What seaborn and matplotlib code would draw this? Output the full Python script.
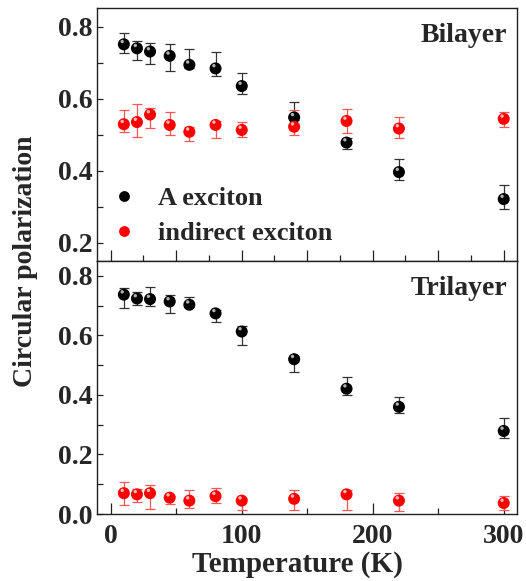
import numpy as np
import pandas as pd
import seaborn as sns
import matplotlib
matplotlib.use('Agg')
from matplotlib import pyplot as plt
from matplotlib.ticker import MultipleLocator
from matplotlib.transforms import ScaledTranslation

# ----- datos -----
temps = [10, 20, 30, 45, 60, 80, 100, 140, 180, 220, 300]

# bicapa
bi_a = [0.751, 0.740, 0.731, 0.719, 0.694, 0.684, 0.635, 0.548, 0.478, 0.396, 0.321]
bi_a_hi = [0.782, 0.761, 0.755, 0.752, 0.739, 0.730, 0.670, 0.590, 0.490, 0.433, 0.359]
bi_a_lo = [0.726, 0.707, 0.696, 0.677, 0.685, 0.662, 0.613, 0.540, 0.459, 0.374, 0.294]
bi_ind = [0.529, 0.535, 0.556, 0.527, 0.508, 0.527, 0.513, 0.522, 0.538, 0.517, 0.544]
bi_ind_hi = [0.569, 0.584, 0.575, 0.562, 0.520, 0.539, 0.536, 0.569, 0.571, 0.548, 0.564]
bi_ind_lo = [0.506, 0.494, 0.518, 0.498, 0.482, 0.490, 0.494, 0.499, 0.504, 0.492, 0.521]

# tricapa
tri_a = [0.737, 0.724, 0.722, 0.714, 0.703, 0.674, 0.613, 0.520, 0.421, 0.360, 0.279]
tri_a_hi = [0.758, 0.746, 0.761, 0.737, 0.730, 0.685, 0.632, 0.530, 0.459, 0.394, 0.321]
tri_a_lo = [0.692, 0.703, 0.699, 0.675, 0.695, 0.646, 0.567, 0.477, 0.400, 0.340, 0.255]
tri_ind = [0.070, 0.066, 0.070, 0.055, 0.045, 0.060, 0.045, 0.051, 0.066, 0.045, 0.037]
tri_ind_hi = [0.107, 0.084, 0.099, 0.062, 0.080, 0.088, 0.055, 0.080, 0.080, 0.071, 0.059]
tri_ind_lo = [0.029, 0.042, 0.018, 0.032, 0.021, 0.037, 0.014, 0.014, 0.014, 0.010, 0.015]

labels = ['A exciton', 'indirect exciton']
colores = {'A exciton': 'black', 'indirect exciton': '#ff0000'}
brillo = {'A exciton': '#b0b0b0', 'indirect exciton': '#ffb8b8'}
barras = {'A exciton': '#333333', 'indirect exciton': '#ff5555'}

# ----- estilo -----
sns.set_style('ticks')
plt.rcParams['font.family'] = ['Liberation Serif', 'DejaVu Serif']
plt.rcParams['font.weight'] = 'bold'
plt.rcParams['axes.labelweight'] = 'bold'
plt.rcParams['axes.linewidth'] = 1.0
plt.rcParams['axes.edgecolor'] = '#222222'

fig = plt.figure(figsize=(5.26, 5.81), dpi=100)
ax1 = fig.add_axes([0.1844, 0.5508, 0.7994, 0.4355])
ax2 = fig.add_axes([0.1844, 0.1153, 0.7994, 0.4355])


def panel(ax, a, a_lo, a_hi, ind, ind_lo, ind_hi, legend):
    df = pd.DataFrame({
        'T': temps * 2,
        'P': a + ind,
        'serie': [labels[0]] * len(temps) + [labels[1]] * len(temps),
    })
    for lab, y, lo, hi in [(labels[0], a, a_lo, a_hi), (labels[1], ind, ind_lo, ind_hi)]:
        y = np.array(y)
        yerr = [y - np.array(lo), np.array(hi) - y]
        ax.errorbar(temps, y, yerr=yerr, fmt='none', ecolor=barras[lab],
                    elinewidth=0.9, capsize=3.5, capthick=0.9, zorder=2)
    sns.scatterplot(data=df, x='T', y='P', hue='serie', palette=colores,
                    hue_order=labels, s=75, edgecolor='none',
                    linewidth=0, ax=ax, zorder=3, legend=legend)
    # brillo de las esferas
    off = ax.transData + ScaledTranslation(-1.2 / 72, 2.0 / 72, fig.dpi_scale_trans)
    for lab, y in [(labels[0], a), (labels[1], ind)]:
        ax.scatter(temps, y, s=6, color=brillo[lab], edgecolor='none',
                   transform=off, zorder=4)
    ax.set_xlim(-10.5, 310.5)
    ax.set_xlabel('')
    ax.set_ylabel('')
    ax.yaxis.set_major_locator(MultipleLocator(0.2))
    ax.yaxis.set_minor_locator(MultipleLocator(0.1))
    ax.xaxis.set_major_locator(MultipleLocator(100))
    ax.tick_params(axis='both', which='both', direction='in', labelsize=20,
                   top=False, right=False, width=0.9, color='#222222')
    ax.tick_params(axis='y', which='both', length=4)
    ax.tick_params(axis='x', which='major', length=8, pad=7)
    ax.tick_params(axis='x', which='minor', length=4)


panel(ax1, bi_a, bi_a_lo, bi_a_hi, bi_ind, bi_ind_lo, bi_ind_hi, True)
panel(ax2, tri_a, tri_a_lo, tri_a_hi, tri_ind, tri_ind_lo, tri_ind_hi, False)

ax1.set_ylim(0.149, 0.852)
ax2.set_ylim(0.0, 0.85)
ax1.xaxis.set_minor_locator(MultipleLocator(25))
ax1.xaxis.set_major_locator(MultipleLocator(50))
ax1.tick_params(axis='x', labelbottom=False)
ax2.xaxis.set_minor_locator(MultipleLocator(50))
ax2.set_yticks([0.0, 0.2, 0.4, 0.6, 0.8])
ax2.set_yticklabels(['0.0', '0.2', '0.4', '0.6', '0.8'])
ax1.set_yticks([0.2, 0.4, 0.6, 0.8])
ax1.set_yticklabels(['0.2', '0.4', '0.6', '0.8'])
for t in ax1.get_yticklabels() + ax2.get_yticklabels() + ax2.get_xticklabels():
    t.set_fontweight('bold')

ax1.text(0.975, 0.94, 'Bilayer', transform=ax1.transAxes, ha='right', va='top',
         fontsize=20, fontweight='bold')
ax2.text(0.975, 0.94, 'Trilayer', transform=ax2.transAxes, ha='right', va='top',
         fontsize=20, fontweight='bold')

leg = ax1.legend(loc='lower left', bbox_to_anchor=(-0.03, -0.03), frameon=False,
                 fontsize=19, handletextpad=0.7, labelspacing=0.42,
                 handlelength=1.2, markerscale=0.9)
leg.set_title(None)
for t in leg.get_texts():
    t.set_fontweight('bold')

ax2.set_xlabel('Temperature (K)', fontsize=21, fontweight='bold')
ax2.xaxis.set_label_coords(0.476, -0.145)
fig.text(0.048, 0.55, 'Circular polarization', rotation=90, ha='center',
         va='center', fontsize=20, fontweight='bold')

fig.savefig('out.png', dpi=100)
